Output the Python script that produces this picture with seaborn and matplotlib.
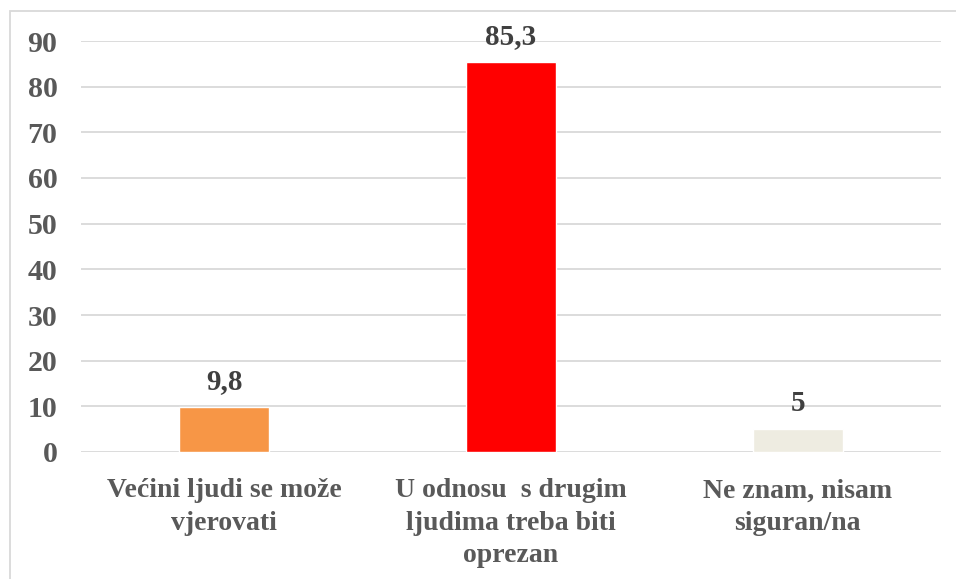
import matplotlib
matplotlib.use('Agg')
import matplotlib.pyplot as plt
import seaborn as sns
import pandas as pd
from matplotlib.patches import Rectangle

categories = ['Većini ljudi se može\nvjerovati',
              'U odnosu  s drugim\nljudima treba biti\noprezan',
              'Ne znam, nisam\nsiguran/na']
values = [9.8, 85.3, 5]
value_labels = ['9,8', '85,3', '5']
bar_colors = ['#F79646', '#FF0000', '#EEECE1']
y_ticks = [0, 10, 20, 30, 40, 50, 60, 70, 80, 90]

W, H = 956, 579
FONT = ['Liberation Serif', 'DejaVu Serif']

def main():
    sns.set_style('white')
    plt.rcParams['font.family'] = FONT
    plt.rcParams['font.weight'] = 'bold'

    df = pd.DataFrame({'category': categories, 'value': values})

    fig = plt.figure(figsize=(W / 100, H / 100), dpi=100)
    ax = fig.add_axes([81 / W, 1 - 452 / H, (941 - 81) / W, (452 - 41) / H])

    sns.barplot(data=df, x='category', y='value', hue='category',
                palette=bar_colors, width=0.314, legend=False, ax=ax,
                saturation=1, zorder=3)

    ax.set_ylim(0, 90)
    ax.set_xlim(-0.5, 2.5)
    ax.set_yticks(y_ticks)
    ax.yaxis.grid(True, color='#D9D9D9', linewidth=1.3, zorder=0)
    ax.set_axisbelow(True)
    for s in ax.spines.values():
        s.set_visible(False)
    ax.set_xlabel('')
    ax.set_ylabel('')

    ax.tick_params(axis='y', length=0, pad=17, labelsize=21.5, labelcolor='#595959')
    for lab in ax.get_yticklabels():
        lab.set_fontweight('bold')
        lab.set_family(FONT)

    # category labels drawn under each bar position
    ax.tick_params(axis='x', length=0, labelbottom=False)
    for i, c in enumerate(categories):
        ax.annotate(c, (i, 0), xycoords=('data', 'axes fraction'),
                    xytext=(0, -19), textcoords='offset points',
                    ha='center', va='top', fontsize=20, fontweight='bold',
                    family=FONT, color='#595959', linespacing=1.38,
                    annotation_clip=False)

    for i, (v, t) in enumerate(zip(values, value_labels)):
        ax.annotate(t, (i, v), xytext=(0, 9), textcoords='offset points',
                    ha='center', va='bottom', fontsize=21, fontweight='bold',
                    family=FONT, color='#404040')

    # light border around the chart (bottom/right run past the image)
    fig.patches.append(Rectangle((10 / W, -0.1), 1.2, 1 - 11 / H + 0.1,
                                 transform=fig.transFigure, fill=False,
                                 edgecolor='#D9D9D9', linewidth=1.3))

    fig.savefig('out.png', dpi=100)

if __name__ == '__main__':
    main()
